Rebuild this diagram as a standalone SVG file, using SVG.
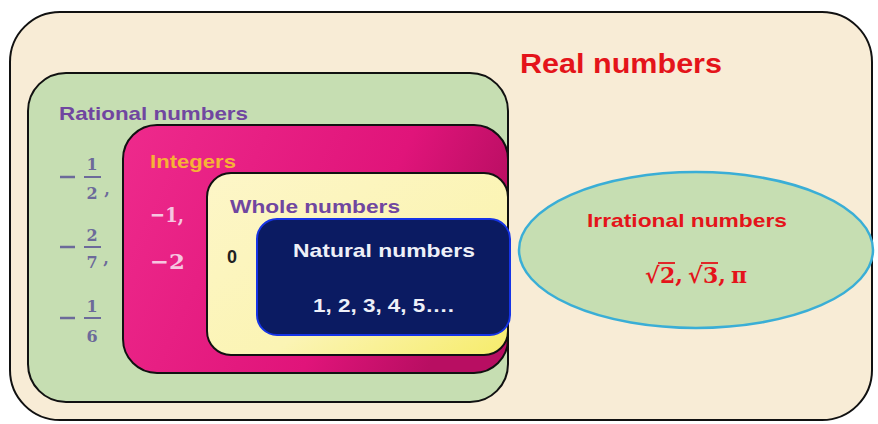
<svg xmlns="http://www.w3.org/2000/svg" width="878" height="424" viewBox="0 0 878 424">
<defs>
<linearGradient id="pinkG" x1="0" y1="0" x2="1" y2="0.3">
<stop offset="0" stop-color="#ee2a8c"/><stop offset="0.7" stop-color="#e0147a"/><stop offset="1" stop-color="#b80e62"/>
</linearGradient>
<linearGradient id="yelG" x1="0" y1="0" x2="1" y2="1">
<stop offset="0" stop-color="#fdf6c8"/><stop offset="0.6" stop-color="#fbf4b4"/><stop offset="1" stop-color="#f6ec6a"/>
</linearGradient>
<style>
.lbl{font-family:"Liberation Sans",Arial,sans-serif;font-weight:bold}
.math{font-family:"DejaVu Serif","Liberation Serif",serif;font-weight:bold}
.box{stroke:#111;stroke-width:2}
</style>
</defs>
<rect width="878" height="424" fill="#ffffff"/>
<g id="real">
<rect class="box" x="10" y="12" width="862" height="408" rx="50" fill="#f8ecd6"/>
<text class="lbl" x="520" y="73" font-size="27" fill="#e4141a" textLength="202" lengthAdjust="spacingAndGlyphs">Real numbers</text>
</g>
<g id="rational">
<rect class="box" x="28" y="73" width="480" height="329" rx="38" fill="#c6deb2"/>
<text class="lbl" x="59" y="120" font-size="19" fill="#7046a0" textLength="189" lengthAdjust="spacingAndGlyphs">Rational numbers</text>
<g class="math" fill="#6c6a9a" font-size="16" text-anchor="middle">
<line x1="60" y1="177" x2="75" y2="177" stroke="#6c6a9a" stroke-width="2.5"/>
<text x="92" y="170">1</text>
<line x1="84" y1="177" x2="101" y2="177" stroke="#6c6a9a" stroke-width="2"/>
<text x="92" y="199">2</text>
<text x="107" y="195">,</text>
<line x1="60" y1="247" x2="75" y2="247" stroke="#6c6a9a" stroke-width="2.5"/>
<text x="92" y="241">2</text>
<line x1="84" y1="247" x2="101" y2="247" stroke="#6c6a9a" stroke-width="2"/>
<text x="92" y="268">7</text>
<text x="106" y="264">,</text>
<line x1="60" y1="318" x2="75" y2="318" stroke="#6c6a9a" stroke-width="2.5"/>
<text x="92" y="312">1</text>
<line x1="84" y1="318" x2="101" y2="318" stroke="#6c6a9a" stroke-width="2"/>
<text x="92" y="342">6</text>
</g>
</g>
<g id="integers">
<rect class="box" x="123" y="125" width="385" height="248" rx="34" fill="url(#pinkG)"/>
<text class="lbl" x="150" y="168" font-size="19" fill="#f6b236" textLength="86" lengthAdjust="spacingAndGlyphs">Integers</text>
<text class="math" x="150" y="222" font-size="21" fill="#f6c6e0" textLength="34" lengthAdjust="spacingAndGlyphs">−1,</text>
<text class="math" x="150" y="269" font-size="21" fill="#f6c6e0" textLength="35" lengthAdjust="spacingAndGlyphs">−2</text>
</g>
<g id="whole">
<rect class="box" x="207" y="173" width="301" height="182" rx="24" fill="url(#yelG)"/>
<text class="lbl" x="230" y="213" font-size="19" fill="#7046a0" textLength="170" lengthAdjust="spacingAndGlyphs">Whole numbers</text>
<text class="lbl" x="227" y="263" font-size="18" fill="#222222">0</text>
</g>
<g id="natural">
<rect x="257" y="219" width="253" height="116" rx="20" fill="#0b1b62" stroke="#1634e6" stroke-width="2"/>
<text class="lbl" x="293" y="257" font-size="19" fill="#eef0f8" textLength="182" lengthAdjust="spacingAndGlyphs">Natural numbers</text>
<text class="lbl" x="313" y="312" font-size="19" fill="#eef0f8" textLength="141" lengthAdjust="spacingAndGlyphs">1, 2, 3, 4, 5….</text>
</g>
<g id="irrational">
<ellipse cx="696" cy="250" rx="177" ry="78" fill="#c6deb2" stroke="#3aaed6" stroke-width="2.5"/>
<text class="lbl" x="587" y="227" font-size="19" fill="#e4141a" textLength="200" lengthAdjust="spacingAndGlyphs">Irrational numbers</text>
<text class="math" font-size="22" fill="#e4141a" y="283"><tspan x="645">√</tspan><tspan x="660">2,</tspan><tspan x="688">√</tspan><tspan x="703">3,</tspan><tspan x="731">π</tspan></text>
<g stroke="#e4141a" stroke-width="1.8">
<line x1="658" y1="263" x2="675" y2="263"/>
<line x1="701" y1="263" x2="718" y2="263"/>
</g>
</g>
<g id="connectors"/>
</svg>
